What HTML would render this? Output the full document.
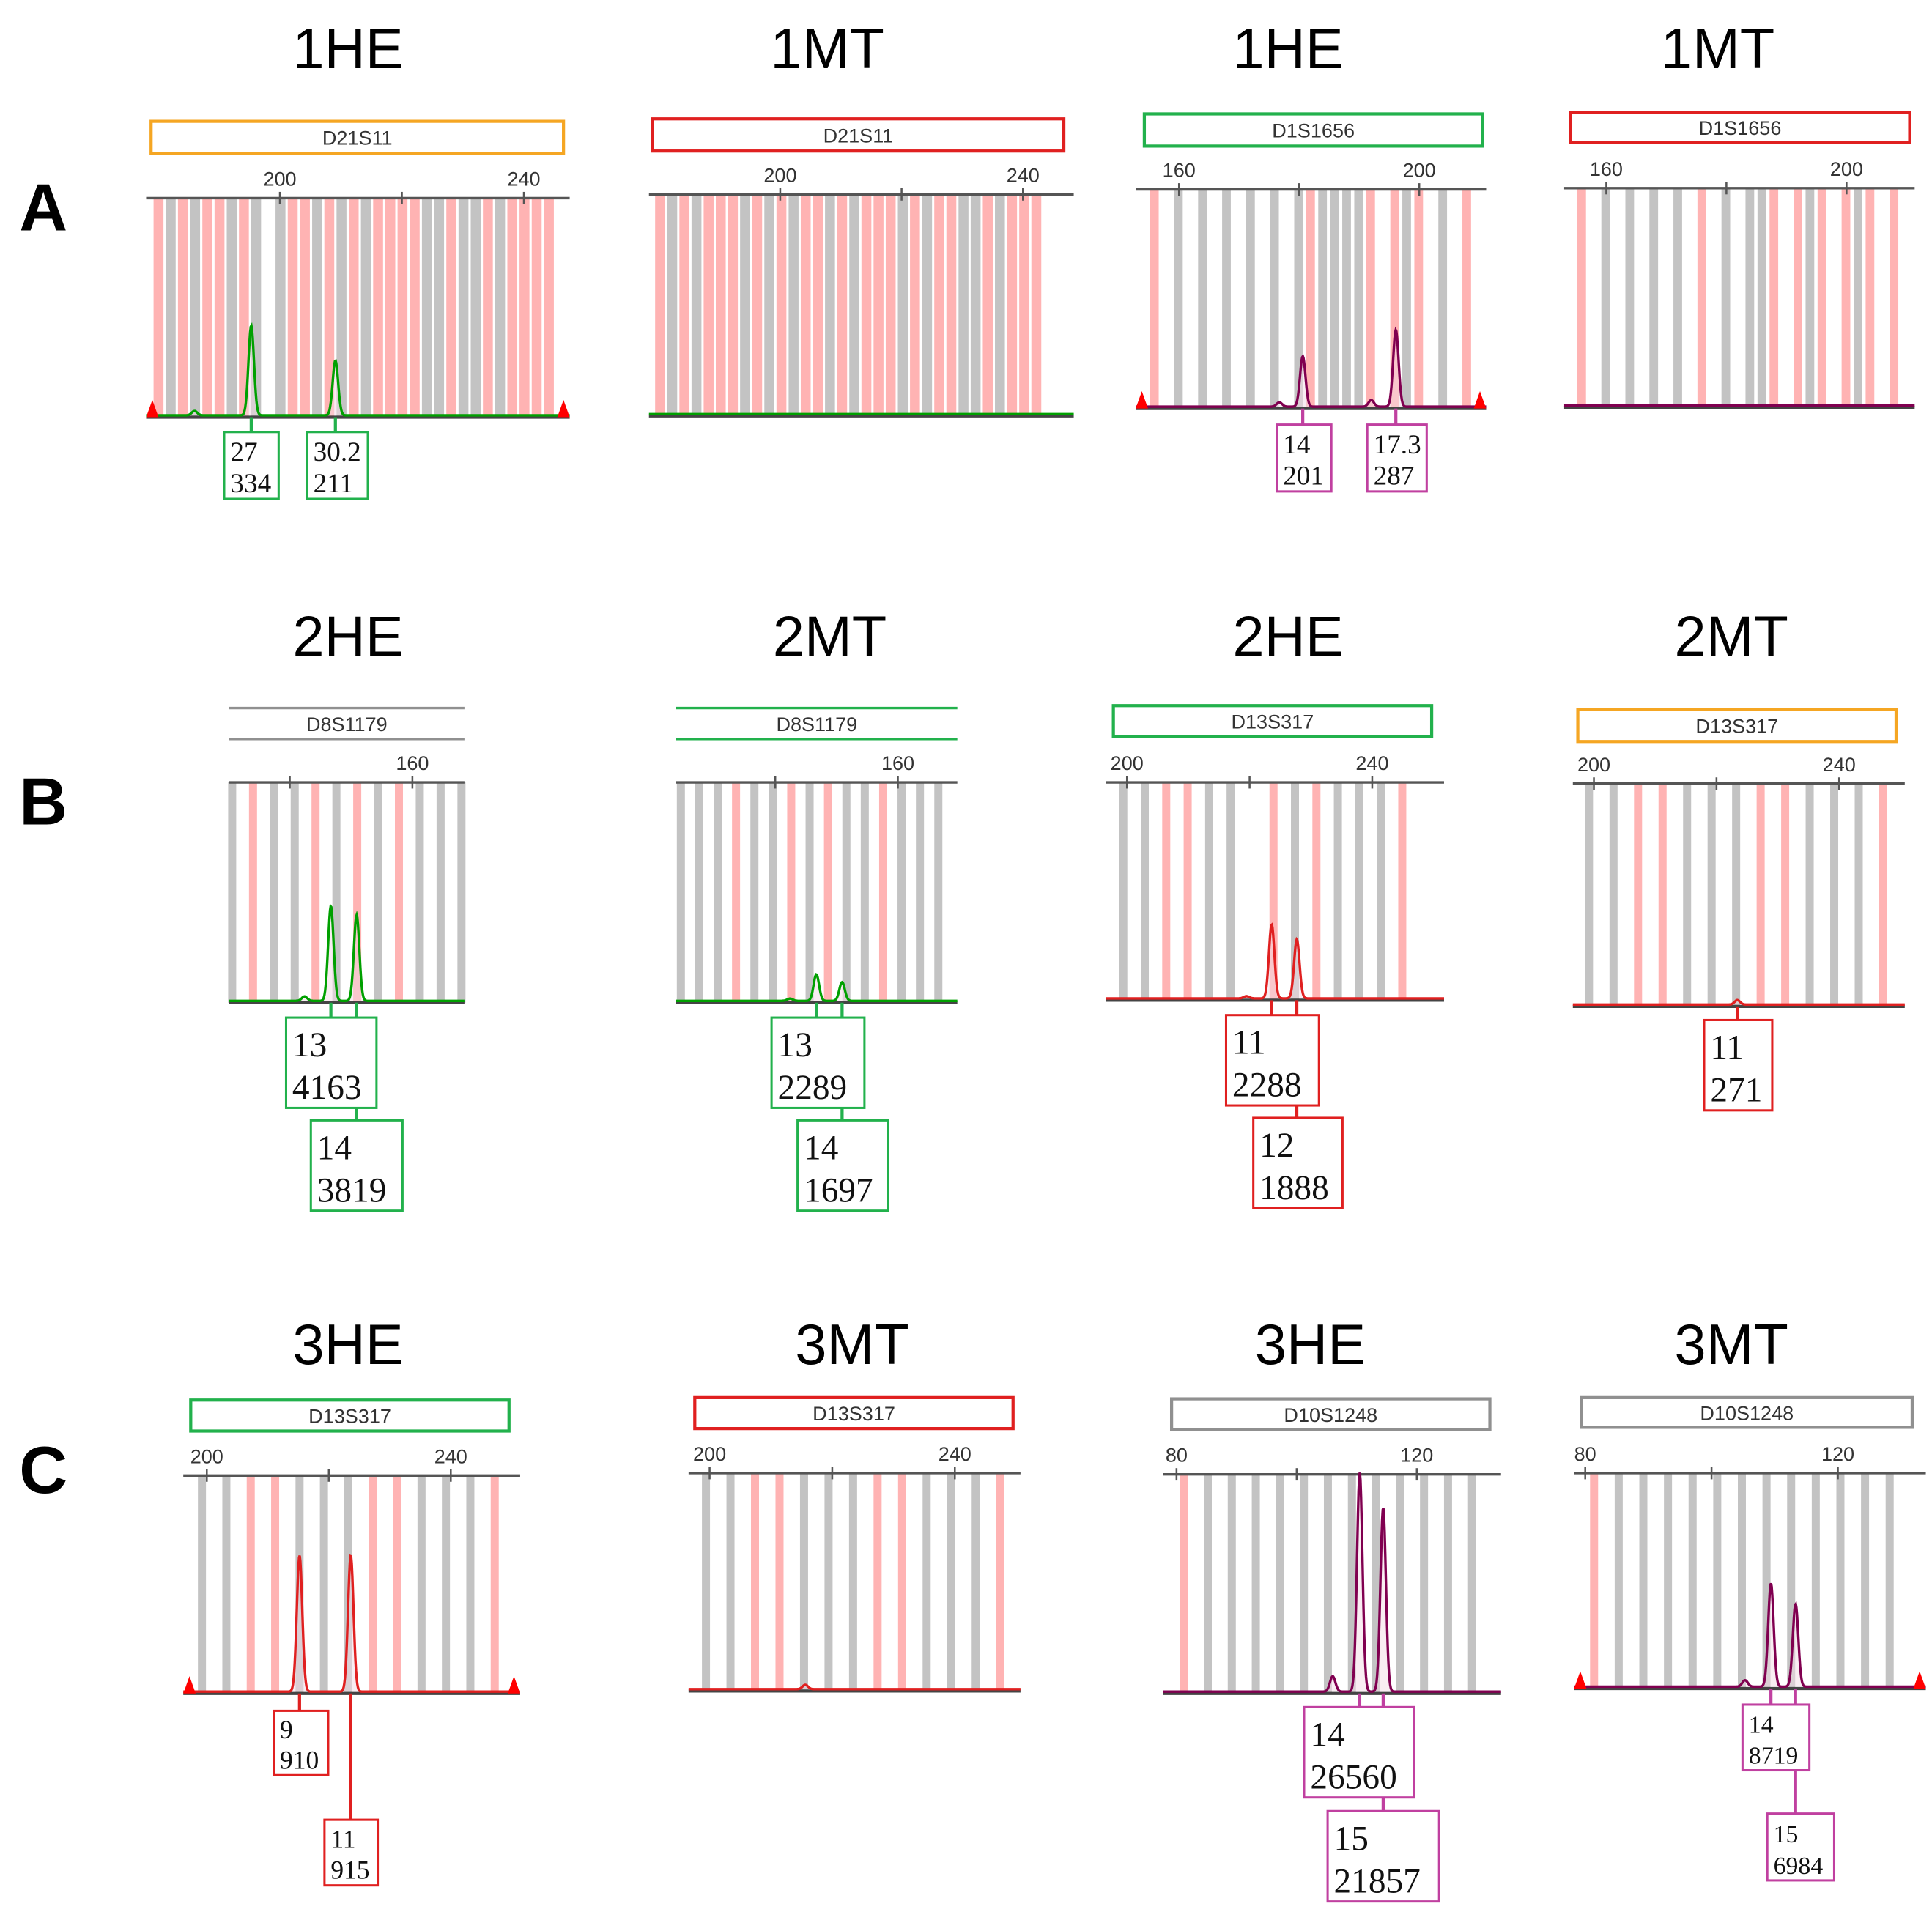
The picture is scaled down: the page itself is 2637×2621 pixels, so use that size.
<!DOCTYPE html>
<html><head><meta charset="utf-8"><style>
html,body{margin:0;padding:0;background:#fff}
svg{display:block}
</style></head><body>
<svg id="fig" xmlns="http://www.w3.org/2000/svg" width="2637" height="2621" viewBox="0 0 1560 1551" preserveAspectRatio="none" font-family="Liberation Sans, Arial, sans-serif">
<rect x="0" y="0" width="1560" height="1551" fill="#fff"/>
</svg>
<script>
// ---- data arrays (peak positions in bp, relative heights 0-1) ----
const p1PeakBp=[186,195.3,209.1], p1PeakH=[0.02,0.41,0.25];
const p2PeakBp=[], p2PeakH=[];
const p3PeakBp=[176.7,180.6,192,196.1], p3PeakH=[0.02,0.23,0.03,0.35];
const p4PeakBp=[], p4PeakH=[];
const p5PeakBp=[142.4,146.7,150.9], p5PeakH=[0.02,0.43,0.39];
const p6PeakBp=[142.4,146.7,150.9], p6PeakH=[0.01,0.12,0.085];
const p7PeakBp=[219.5,223.6,227.7], p7PeakH=[0.01,0.34,0.27];
const p8PeakBp=[223.4], p8PeakH=[0.02];
const p9PeakBp=[215.2,223.6], p9PeakH=[0.625,0.625];
const p10PeakBp=[215.6], p10PeakH=[0.02];
const p11PeakBp=[106,110.5,114.4], p11PeakH=[0.07,1.0,0.84];
const p12PeakBp=[105.3,109.4,113.3], p12PeakH=[0.03,0.48,0.385];
const tickLabels1=["200","240"], tickValues1=[200,240];
const tickLabels2=["160","200"], tickValues2=[160,200];
const tickLabels3=["160"], tickValues3=[160];
const tickLabels4=["80","120"], tickValues4=[80,120];
const allele1=[["27","334"],["30.2","211"]];
const allele3=[["14","201"],["17.3","287"]];
const allele5=[["13","4163"],["14","3819"]];
const allele6=[["13","2289"],["14","1697"]];
const allele7=[["11","2288"],["12","1888"]];
const allele8=[["11","271"]];
const allele9=[["9","910"],["11","915"]];
const allele11=[["14","26560"],["15","21857"]];
const allele12=[["14","8719"],["15","6984"]];

const NS="http://www.w3.org/2000/svg";
const svg=document.getElementById('fig');
function mk(tag,attrs,parent){const e=document.createElementNS(NS,tag);for(const k in attrs)e.setAttribute(k,attrs[k]);(parent||svg).appendChild(e);return e;}
function txt(parent,x,y,s,size,opts){const t=mk('text',Object.assign({x:x,y:y,'font-size':size,fill:'#111','text-anchor':'middle'},opts||{}),parent);t.textContent=s;return t;}

const COL={green:'#00a000',purple:'#800050',red:'#e02020',orange:'#f5a623',gray:'#888',boxgreen:'#22b14c',boxred:'#e02020',boxgray:'#909090'};

function panel(id,cfg,peakBp,peakH,ticksV,ticksL,alleles){
  const g=mk('g',{});
  
  
  const X=bp=>cfg.tx+(bp-cfg.tv)*cfg.ppb;
  const b=cfg.box;
  if(b.style==='lines'){
    mk('line',{x1:b.x,x2:b.x+b.w,y1:b.y,y2:b.y,stroke:b.c,'stroke-width':2},g);
    mk('line',{x1:b.x,x2:b.x+b.w,y1:b.y+b.h,y2:b.y+b.h,stroke:b.c,'stroke-width':2},g);
  } else {
    mk('rect',{x:b.x,y:b.y,width:b.w,height:b.h,fill:'#fff',stroke:b.c,'stroke-width':2.5},g);
  }
  const ml=txt(g,b.x+b.w/2,b.y+b.h/2+6,cfg.marker,16,{fill:'#333'});
  
  
  const H=cfg.by-cfg.ay;
  for(let i=0;i<cfg.pat.length;i++){
    const ch=cfg.pat[i]; if(ch==='w')continue;
    const x=X(cfg.s0+i*cfg.step);
    const r=mk('rect',{x:x-cfg.sw/2,y:cfg.ay,width:cfg.sw,height:H,fill:ch==='p'?'#ffb3b3':'#c3c3c3'},g);
    
    
  }
  mk('line',{x1:cfg.x0,x2:cfg.x1,y1:cfg.ay,y2:cfg.ay,stroke:'#555','stroke-width':2},g);
  for(let i=0;i<ticksV.length;i++){
    const x=X(ticksV[i]);
    mk('line',{x1:x,x2:x,y1:cfg.ay-5,y2:cfg.ay+5,stroke:'#555','stroke-width':1.5},g);
    const t=txt(g,x,cfg.ay-10,ticksL[i],16,{fill:'#333'});
    
    
  }
  if(cfg.midTick){const x=X(cfg.midTick);mk('line',{x1:x,x2:x,y1:cfg.ay-5,y2:cfg.ay+5,stroke:'#555','stroke-width':1.5},g);}
  mk('line',{x1:cfg.x0,x2:cfg.x1,y1:cfg.by,y2:cfg.by,stroke:'#444','stroke-width':2.5},g);
  let d='';
  for(let x=cfg.x0;x<=cfg.x1;x+=0.5){
    let y=cfg.by-1.5;
    for(let k=0;k<peakBp.length;k++){const dx=x-X(peakBp[k]);y-=peakH[k]*H*Math.exp(-dx*dx/(2*2.2*2.2));}
    d+=(d?'L':'M')+x.toFixed(1)+' '+y.toFixed(1);
  }
  const tr=mk('path',{d:d,fill:'#f3dbe6','fill-opacity':0.5,stroke:cfg.tc,'stroke-width':2},g);
  
  
  if(cfg.tri){
    [cfg.x0+5,cfg.x1-5].forEach(x=>{mk('polygon',{points:`${x-5},${cfg.by} ${x+5},${cfg.by} ${x},${cfg.by-14}`,fill:'#ff0000'},g);});
  }
  const labs=cfg.lab||[];
  labs.forEach((L,i)=>{
    const px=X(peakBp[cfg.labPeak[i]]);
    mk('line',{x1:px,x2:px,y1:cfg.by,y2:L.y,stroke:cfg.bc,'stroke-width':2.5},g);
  });
  labs.forEach((L,i)=>{
    const a=alleles[i];
    const r=mk('rect',{x:L.x,y:L.y,width:L.w,height:L.h,fill:'#fff',stroke:cfg.bc,'stroke-width':1.8},g);
    
    
    const fs=L.fs;
    txt(g,L.x+5,L.y+L.h*0.43,a[0],fs,{'text-anchor':'start','font-family':'Liberation Serif, serif'});
    txt(g,L.x+5,L.y+L.h*0.9,a[1],fs,{'text-anchor':'start','font-family':'Liberation Serif, serif'});
  });
}

const titles=[[281,55,'1HE'],[668,55,'1MT'],[1040,55,'1HE'],[1387,55,'1MT'],
[281,530,'2HE'],[670,530,'2MT'],[1040,530,'2HE'],[1398,530,'2MT'],
[281,1102,'3HE'],[688,1102,'3MT'],[1058,1102,'3HE'],[1398,1102,'3MT']];
titles.forEach(t=>{const e=txt(svg,t[0],t[1],t[2],46,{fill:'#000'});});
[[35,186,'A'],[35,666,'B'],[35,1206,'C']].forEach(t=>{const e=txt(svg,t[0],t[1],t[2],54,{'font-weight':'bold',fill:'#000'});});

panel('panel-1he-d21s11',{marker:'D21S11',box:{x:122,y:98,w:333,h:26,c:COL.orange},x0:118,x1:460,ay:160,by:337,tx:226,tv:200,ppb:4.925,midTick:220,
 s0:180.1,step:2,sw:8,pat:'pgpgppgpgwgppgpgpgppppggpggpgpppp',tc:COL.green,bc:COL.boxgreen,tri:true,labPeak:[1,2],
 lab:[{x:181,y:349,w:44,h:54,fs:22},{x:248,y:349,w:49,h:54,fs:22}]},p1PeakBp,p1PeakH,tickValues1,tickLabels1,allele1);
panel('panel-1mt-d21s11',{marker:'D21S11',box:{x:527,y:96,w:332,h:26,c:COL.boxred},x0:524,x1:867,ay:157,by:336,tx:630,tv:200,ppb:4.9,midTick:220,
 s0:180.2,step:2,sw:8,pat:'pgpgpppgpgpgppgpgpppgpgppggpgppp',tc:COL.green,bc:COL.boxgreen},p2PeakBp,p2PeakH,tickValues1,tickLabels1,[]);
panel('panel-1he-d1s1656',{marker:'D1S1656',box:{x:924,y:92,w:273,h:26,c:COL.boxgreen},x0:917,x1:1200,ay:153,by:330,tx:952,tv:160,ppb:4.85,midTick:180,
 s0:155.9,step:2,sw:7,pat:'pwgwgwgwgwgwgpggggpwpgpwgwp',tc:COL.purple,bc:'#c040a0',tri:true,labPeak:[1,3],
 lab:[{x:1031,y:343,w:44,h:54,fs:22},{x:1104,y:343,w:48,h:54,fs:22}]},p3PeakBp,p3PeakH,tickValues2,tickLabels2,allele3);
panel('panel-1mt-d1s1656',{marker:'D1S1656',box:{x:1268,y:91,w:274,h:24,c:COL.boxred},x0:1263,x1:1546,ay:152,by:329,tx:1297,tv:160,ppb:4.85,midTick:180,
 s0:155.9,step:2,sw:7,pat:'pwgwgwgwgwpwgwggpwpgpwpgpwp',tc:COL.purple,bc:'#c040a0'},p4PeakBp,p4PeakH,tickValues2,tickLabels2,[]);

panel('panel-2he-d8s1179',{marker:'D8S1179',box:{x:185,y:572,w:190,h:25,c:COL.boxgray,style:'lines'},x0:185,x1:375,ay:632,by:810,tx:333,tv:160,ppb:4.95,midTick:140,
 s0:130.6,step:3.4,sw:6.5,pat:'gpggpgpgpggg',tc:COL.green,bc:COL.boxgreen,labPeak:[1,2],
 lab:[{x:231,y:822,w:73,h:73,fs:28},{x:251,y:905,w:74,h:73,fs:28}]},p5PeakBp,p5PeakH,tickValues3,tickLabels3,allele5);
panel('panel-2mt-d8s1179',{marker:'D8S1179',box:{x:546,y:572,w:227,h:25,c:COL.boxgreen,style:'lines'},x0:546,x1:773,ay:632,by:810,tx:725,tv:160,ppb:4.95,midTick:140,
 s0:124.6,step:3,sw:6.5,pat:'gggpggpgpggpggg',tc:COL.green,bc:COL.boxgreen,labPeak:[1,2],
 lab:[{x:623,y:822,w:75,h:73,fs:28},{x:644,y:905,w:73,h:73,fs:28}]},p6PeakBp,p6PeakH,tickValues3,tickLabels3,allele6);
panel('panel-2he-d13s317',{marker:'D13S317',box:{x:899,y:570,w:257,h:25,c:COL.boxgreen},x0:893,x1:1166,ay:632,by:808,tx:910,tv:200,ppb:4.95,midTick:220,
 s0:199.4,step:3.5,sw:6.5,pat:'ggppggwpgpgggp',tc:COL.red,bc:COL.boxred,labPeak:[1,2],
 lab:[{x:990,y:820,w:75,h:73,fs:28},{x:1012,y:903,w:72,h:73,fs:28}]},p7PeakBp,p7PeakH,tickValues1,tickLabels1,allele7);
panel('panel-2mt-d13s317',{marker:'D13S317',box:{x:1274,y:573,w:257,h:26,c:COL.orange},x0:1270,x1:1538,ay:633,by:813,tx:1287,tv:200,ppb:4.95,midTick:220,
 s0:199.2,step:4,sw:6.5,pat:'ggppgggppgggp',tc:COL.red,bc:COL.boxred,labPeak:[0],
 lab:[{x:1376,y:824,w:55,h:73,fs:28}]},p8PeakBp,p8PeakH,tickValues1,tickLabels1,allele8);

panel('panel-3he-d13s317',{marker:'D13S317',box:{x:154,y:1131,w:257,h:25,c:COL.boxgreen},x0:148,x1:420,ay:1192,by:1368,tx:167,tv:200,ppb:4.925,midTick:220,
 s0:199.2,step:4,sw:6.5,pat:'ggppgggppgggp',tc:COL.red,bc:COL.boxred,tri:true,labPeak:[0,1],
 lab:[{x:221,y:1382,w:44,h:52,fs:21},{x:262,y:1470,w:43,h:53,fs:21}]},p9PeakBp,p9PeakH,tickValues1,tickLabels1,allele9);
panel('panel-3mt-d13s317',{marker:'D13S317',box:{x:561,y:1129,w:257,h:25,c:COL.boxred},x0:556,x1:824,ay:1190,by:1366,tx:573,tv:200,ppb:4.95,midTick:220,
 s0:199.4,step:4,sw:6.5,pat:'ggppgggppgggp',tc:COL.red,bc:COL.boxred},p10PeakBp,p10PeakH,tickValues1,tickLabels1,[]);
panel('panel-3he-d10s1248',{marker:'D10S1248',box:{x:946,y:1130,w:257,h:25,c:COL.boxgray},x0:939,x1:1212,ay:1191,by:1368,tx:950,tv:80,ppb:4.85,midTick:100,
 s0:81.2,step:4,sw:6.5,pat:'pgggggggggggg',tc:COL.purple,bc:'#c040a0',labPeak:[1,2],
 lab:[{x:1053,y:1379,w:89,h:73,fs:28},{x:1072,y:1463,w:90,h:73,fs:28}]},p11PeakBp,p11PeakH,tickValues4,tickLabels4,allele11);
panel('panel-3mt-d10s1248',{marker:'D10S1248',box:{x:1277,y:1129,w:267,h:24,c:COL.boxgray},x0:1271,x1:1555,ay:1190,by:1364,tx:1280,tv:80,ppb:5.1,midTick:100,
 s0:81.4,step:3.9,sw:6.5,pat:'pgggggggggggg',tc:COL.purple,bc:'#c040a0',tri:true,labPeak:[1,2],
 lab:[{x:1407,y:1377,w:54,h:53,fs:20},{x:1427,y:1465,w:54,h:54,fs:20}]},p12PeakBp,p12PeakH,tickValues4,tickLabels4,allele12);
</script>
</body></html>
